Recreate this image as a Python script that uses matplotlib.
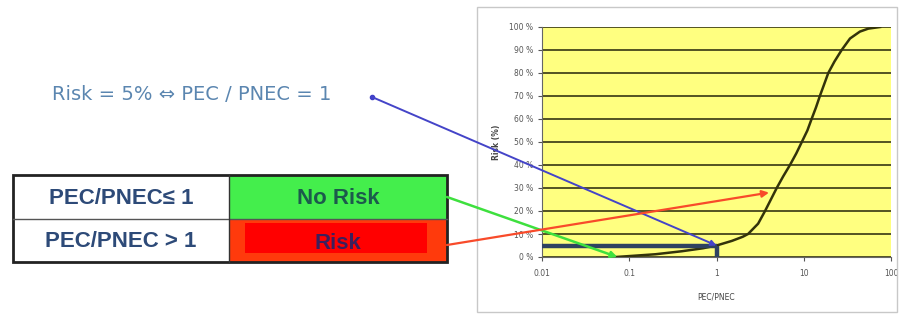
import matplotlib
matplotlib.use("Agg")
import matplotlib.pyplot as plt
from matplotlib.patches import Rectangle

# ---- data ----
pec_pnec = [0.07, 0.1, 0.2, 0.4, 0.7, 1.0, 1.5, 2.0, 2.3, 3.0, 3.6, 4.2, 4.9, 5.8, 6.95, 8.2, 9.5,
            11.0, 12.3, 13.8, 15.3, 17.1, 19.1, 22.5, 27.2, 33.9, 44, 55, 75]
risk_pct = [0, 0.4, 1.2, 2.5, 3.8, 5, 7, 8.8, 10, 14.5, 20, 25, 30, 35, 40, 45, 50,
            55, 60, 65, 70, 75, 80, 85, 90, 95, 98, 99.3, 100]
y_ticks = [0, 10, 20, 30, 40, 50, 60, 70, 80, 90, 100]
y_ticklabels = ["0 %", "10 %", "20 %", "30 %", "40 %", "50 %", "60 %", "70 %", "80 %", "90 %", "100 %"]
x_ticks = [0.01, 0.1, 1, 10, 100]
x_ticklabels = ["0.01", "0.1", "1", "10", "100"]
threshold_x = 1.0
threshold_risk = 5
green_target = (0.073, 0)
red_target = (4.0, 28)
table_left = ["PEC/PNEC\u2264 1", "PEC/PNEC > 1"]
table_right = ["No Risk", "Risk"]
headline = "Risk = 5% \u21d4 PEC / PNEC = 1"

W, H = 899, 315
fig = plt.figure(figsize=(W / 100, H / 100), dpi=100)
fig.patch.set_facecolor("white")

# ---- chart ----
ax = fig.add_axes([542 / W, 1 - 257 / H, (891 - 542) / W, (257 - 27) / H])
ax.set_facecolor("#ffff80")
ax.set_xscale("log")
ax.set_xlim(0.01, 100)
ax.set_ylim(0, 100)
for yv in y_ticks:
    ax.axhline(yv, color="#45451c", lw=1.3, zorder=1)
ax.plot(pec_pnec, risk_pct, color="#33330a", lw=1.8, zorder=3)
ax.plot([0.01, threshold_x], [threshold_risk, threshold_risk], color="#2e4260", lw=3.2, zorder=4,
        solid_capstyle="butt")
ax.plot([threshold_x, threshold_x], [0, threshold_risk], color="#2e4260", lw=3.2, zorder=4,
        solid_capstyle="butt")
ax.set_yticks(y_ticks)
ax.set_yticklabels(y_ticklabels)
ax.set_xticks(x_ticks)
ax.set_xticklabels(x_ticklabels)
ax.minorticks_off()
ax.tick_params(axis="both", labelsize=5.5, colors="#555555", length=3, width=0.8)
ax.tick_params(axis="x", pad=6)
for s in ["top", "right"]:
    ax.spines[s].set_visible(False)
for s in ["left", "bottom"]:
    ax.spines[s].set_color("#666666")
ax.set_xlabel("PEC/PNEC", fontsize=5.5, color="#444444", labelpad=10)
ax.set_ylabel("Risk (%)", fontsize=5.5, color="#444444", fontweight="bold", labelpad=6)

# ---- overlay in pixel coordinates ----
ov = fig.add_axes([0, 0, 1, 1], zorder=5)
ov.set_xlim(0, W)
ov.set_ylim(H, 0)
ov.axis("off")
ov.patch.set_alpha(0)

# chart frame
ov.add_patch(Rectangle((477, 7), 420, 305, fill=False, edgecolor="#c8c8c8", lw=1))

# headline
ov.text(52, 95, headline, fontsize=14, color="#5b86b0", va="center", ha="left",
        family=["DejaVu Sans"])

# table
tl, tm, tr = 13, 229, 447
ty, tmid, tb = 175, 219, 262
ov.add_patch(Rectangle((tl, ty), tm - tl, tb - ty, facecolor="white", edgecolor="none"))
ov.add_patch(Rectangle((tm, ty), tr - tm, tmid - ty, facecolor="#44ee4c", edgecolor="none"))
ov.add_patch(Rectangle((tm, tmid), tr - tm, tb - tmid, facecolor="#ff3a0c", edgecolor="none"))
ov.add_patch(Rectangle((245, 223), 182, 30, facecolor="#ff0000", edgecolor="none"))
ov.plot([tl, tr], [tmid, tmid], color="#555555", lw=1)
ov.plot([tm, tm], [ty, tb], color="#333333", lw=1)
ov.add_patch(Rectangle((tl, ty), tr - tl, tb - ty, fill=False, edgecolor="#222222", lw=2))
fam = ["Liberation Sans", "DejaVu Sans"]
ov.text((tl + tm) / 2, (ty + tmid) / 2 + 1, table_left[0], fontsize=16, fontweight="bold",
        color="#2d4a78", ha="center", va="center", family=fam)
ov.text((tl + tm) / 2, (tmid + tb) / 2 + 1, table_left[1], fontsize=16, fontweight="bold",
        color="#2d4a78", ha="center", va="center", family=fam)
ov.text((tm + tr) / 2, (ty + tmid) / 2 + 1, table_right[0], fontsize=16, fontweight="bold",
        color="#1c5a4c", ha="center", va="center", family=fam)
ov.text((tm + tr) / 2, (tmid + tb) / 2 + 3, table_right[1], fontsize=16, fontweight="bold",
        color="#3c1f5c", ha="center", va="center", family=fam)

# connector arrows
ov.plot([372], [97], marker="o", ms=3, color="#4040c8")
ov.annotate("", xy=(threshold_x, threshold_risk), xycoords=ax.transData,
            xytext=(372, 97), textcoords=ov.transData,
            arrowprops=dict(arrowstyle="-|>", color="#4444c8", lw=1.4,
                            mutation_scale=8, shrinkA=0, shrinkB=0))
ov.annotate("", xy=green_target, xycoords=ax.transData,
            xytext=(tr, 197), textcoords=ov.transData,
            arrowprops=dict(arrowstyle="-|>", color="#3ee03e", lw=1.8,
                            mutation_scale=9, shrinkA=0, shrinkB=0))
ov.annotate("", xy=red_target, xycoords=ax.transData,
            xytext=(tr, 245), textcoords=ov.transData,
            arrowprops=dict(arrowstyle="-|>", color="#f84a2a", lw=1.6,
                            mutation_scale=10, shrinkA=0, shrinkB=0))

fig.savefig("out.png", dpi=100)
